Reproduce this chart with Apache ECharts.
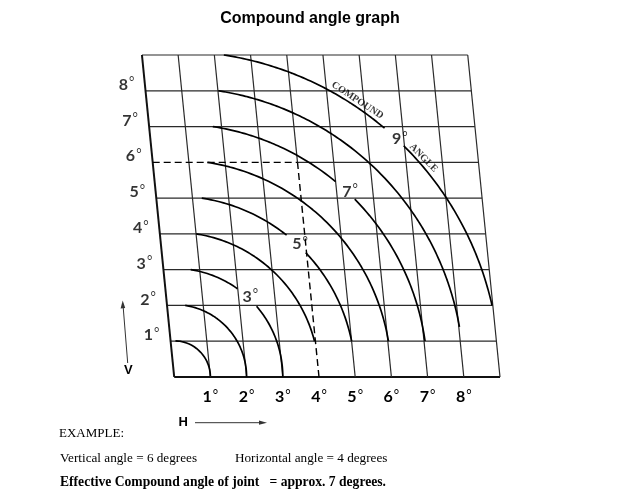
<!DOCTYPE html>
<html>
<head>
<meta charset="utf-8">
<script src="https://cdn.jsdelivr.net/npm/echarts@6/dist/echarts.min.js"></script>
<style>
html,body{margin:0;padding:0;background:#fff;}
#chart{width:620px;height:503px;}
</style>
</head>
<body>
<div id="chart"></div>
<script>
// ---------- data ----------
const hTickLabels = ['1°','2°','3°','4°','5°','6°','7°','8°'];
const vTickLabels = ['1°','2°','3°','4°','5°','6°','7°','8°'];
const gridCells = 9;                       // grid is 9 x 9 degrees
const arcRadii = [1, 2, 3, 4, 5, 6, 7, 8, 9];   // compound angle arcs (degrees)
const arcEndV  = [0, 0, 0, 1, 1, 1, 1, 1.4, 2]; // vertical value where each arc stops
const labelledArcs = [3, 5, 7, 9];
const labelledArcText = ['3°', '5°', '7°', '9°'];
const exampleVertical = 6;
const exampleHorizontal = 4;
const exampleCompound = 7;

// ---------- layout ----------
const G = {left: 138, right: 120, top: 55, bottom: 126};
const W = 620, H = 503;
const PXX = (W - G.left - G.right) / 10;      // px per horizontal degree
const PXY = (H - G.top - G.bottom) / 9;       // px per vertical degree
const K = PXX / PXY;
const SKEW = 0.099;                           // horizontal shift per vertical degree
const edgeX = v => -SKEW * v;
const LINE = '#2a2a2a';

const series = [];
function seg(pts, width, color, dashed, z) {
  series.push({
    type: 'line', data: pts, showSymbol: false, symbol: 'none', silent: true,
    clip: false, z: z || 2, animation: false,
    lineStyle: {width: width, color: color, type: dashed ? [7, 4] : 'solid', cap: 'butt'}
  });
}

// horizontal grid lines
for (let v = 0; v <= gridCells; v++) {
  const w = v === 0 ? 2 : 1.2;
  if (v === exampleVertical) {
    seg([[edgeX(v), v], [exampleHorizontal + edgeX(v), v]], 1.4, '#000', true, 3);
    seg([[exampleHorizontal + edgeX(v), v], [gridCells + edgeX(v), v]], w, LINE);
  } else {
    seg([[edgeX(v), v], [gridCells + edgeX(v), v]], w, v === 0 ? '#111' : LINE);
  }
}
// slanted vertical grid lines
for (let h = 0; h <= gridCells; h++) {
  const w = h === 0 ? 2 : 1.2;
  if (h === exampleHorizontal) {
    seg([[h, 0], [h + edgeX(exampleVertical), exampleVertical]], 1.4, '#000', true, 3);
    seg([[h + edgeX(exampleVertical), exampleVertical], [h + edgeX(gridCells), gridCells]], w, LINE);
  } else {
    seg([[h, 0], [h + edgeX(gridCells), gridCells]], w, h === 0 ? '#111' : LINE);
  }
}

// arcs (true circles about the origin)
const deg = Math.PI / 180;
function arcPoints(r, tFrom, tTo) {
  const pts = [];
  const n = Math.max(8, Math.round((tFrom - tTo) * 2));
  for (let i = 0; i <= n; i++) {
    const t = (tFrom + (tTo - tFrom) * i / n) * deg;
    pts.push([r * Math.cos(t), r * K * Math.sin(t)]);
  }
  return pts;
}
const gapCentre = 47.5;
arcRadii.forEach((r, i) => {
  const tStart = r === 1 ? 88 : Math.asin(Math.min(1, 1 / K)) / deg;
  const tEnd = Math.asin(arcEndV[i] / (r * K)) / deg;
  const li = labelledArcs.indexOf(r);
  if (li >= 0) {
    const half = (13 / (r * PXX)) / deg;
    seg(arcPoints(r, tStart, gapCentre + half), 1.7, '#000', false, 4);
    seg(arcPoints(r, gapCentre - half, tEnd), 1.7, '#000', false, 4);
  } else {
    seg(arcPoints(r, tStart, tEnd), 1.7, '#000', false, 4);
  }
});

const labelFont = 'Lato, "Open Sans", sans-serif';
const degRich = {
  n: {fontSize: 16, fontFamily: labelFont, color: '#000', fontWeight: 'bold', lineHeight: 18},
  d: {fontSize: 13, fontFamily: labelFont, color: '#000', verticalAlign: 'top', lineHeight: 18, padding: [0, 0, 0, 1]}
};
const degFmt = s => '{n|' + s.replace('°', '') + '}{d|°}';

// vertical tick labels (follow the slanted left edge)
series.push({
  type: 'scatter', silent: true, clip: false, symbolSize: 1, z: 5,
  itemStyle: {color: 'rgba(0,0,0,0)'},
  data: vTickLabels.map((t, i) => ({value: [edgeX(i + 1), i + 1], name: t})),
  label: {show: true, position: 'inside', offset: [-19, -6], formatter: p => degFmt(p.name), rich: degRich}
});
// arc labels
series.push({
  type: 'scatter', silent: true, clip: false, symbolSize: 1, z: 5,
  itemStyle: {color: 'rgba(0,0,0,0)'},
  data: labelledArcs.map((r, i) => {
    const t = 46.5 * deg, rr = r + 2 / PXX;
    return {value: [rr * Math.cos(t), rr * K * Math.sin(t)], name: labelledArcText[i]};
  }),
  label: {show: true, position: 'inside', formatter: p => degFmt(p.name), rich: degRich}
});
// words along the outer arc
const outerR = arcRadii[arcRadii.length - 1];
series.push({
  type: 'scatter', silent: true, clip: false, symbolSize: 1, z: 5,
  itemStyle: {color: 'rgba(0,0,0,0)'},
  data: [['COMPOUND', 56.5, 6], ['ANGLE', 41.3, 6]].map(([txt, a, off]) => {
    const rr = outerR + off / PXX;
    return {value: [rr * Math.cos(a * deg), rr * K * Math.sin(a * deg)], name: txt,
      label: {rotate: a - 90 + (txt === 'ANGLE' ? 3 : 0)}};
  }),
  label: {show: true, position: 'inside', formatter: p => p.name,
    color: '#000', fontSize: 10, fontWeight: 'bold', fontFamily: '"Liberation Serif", serif'}
});

const serif = '"Liberation Serif", "Times New Roman", serif';
const option = {
  animation: false,
  backgroundColor: '#fff',
  title: {text: 'Compound angle graph', left: 'center', top: 6,
    textStyle: {fontSize: 16, fontWeight: 'bold', color: '#000', fontFamily: '"Liberation Sans", Arial, sans-serif'}},
  grid: {left: G.left, right: G.right, top: G.top, bottom: G.bottom},
  xAxis: {type: 'value', min: -1, max: 10 - 1, interval: 1,
    axisLine: {show: false}, axisTick: {show: false}, splitLine: {show: false},
    axisLabel: {margin: 11, rich: degRich,
      formatter: v => (v >= 1 && v <= hTickLabels.length) ? degFmt(hTickLabels[v - 1]) : ''}},
  yAxis: {type: 'value', min: 0, max: gridCells, interval: 1,
    axisLine: {show: false}, axisTick: {show: false}, splitLine: {show: false},
    axisLabel: {show: false}},
  graphic: [
    {type: 'text', x: 128.3, y: 370, style: {text: 'V', font: 'bold 13px "Liberation Sans", Arial', fill: '#000', align: 'center', verticalAlign: 'middle'}},
    {type: 'line', shape: {x1: 127.7, y1: 363, x2: 123.1, y2: 306}, style: {stroke: '#333', lineWidth: 1}},
    {type: 'polygon', shape: {points: [[122.7, 300.5], [120.6, 308.5], [125.2, 308.1]]}, style: {fill: '#333'}},
    {type: 'text', x: 183.3, y: 422.7, style: {text: 'H', font: 'bold 13px "Liberation Sans", Arial', fill: '#000', align: 'center', verticalAlign: 'middle'}},
    {type: 'line', shape: {x1: 195, y1: 422.7, x2: 261, y2: 422.7}, style: {stroke: '#333', lineWidth: 1}},
    {type: 'polygon', shape: {points: [[267, 422.7], [259, 420.6], [259, 424.8]]}, style: {fill: '#333'}},
    {type: 'text', x: 59, y: 433.5, style: {text: 'EXAMPLE:', font: '13px ' + serif, fill: '#000', verticalAlign: 'middle'}},
    {type: 'text', x: 60, y: 458.7, style: {text: 'Vertical angle = ' + exampleVertical + ' degrees', font: '13.2px ' + serif, fill: '#000', verticalAlign: 'middle'}},
    {type: 'text', x: 235, y: 458.7, style: {text: 'Horizontal angle = ' + exampleHorizontal + ' degrees', font: '13.2px ' + serif, fill: '#000', verticalAlign: 'middle'}},
    {type: 'text', x: 60, y: 482, style: {text: 'Effective Compound angle of joint   = approx. ' + exampleCompound + ' degrees.', font: 'bold 13.6px ' + serif, fill: '#000', verticalAlign: 'middle'}}
  ],
  series: series
};
const chart = echarts.init(document.getElementById('chart'), null, {renderer: 'canvas'});
chart.setOption(option);
</script>
</body>
</html>
